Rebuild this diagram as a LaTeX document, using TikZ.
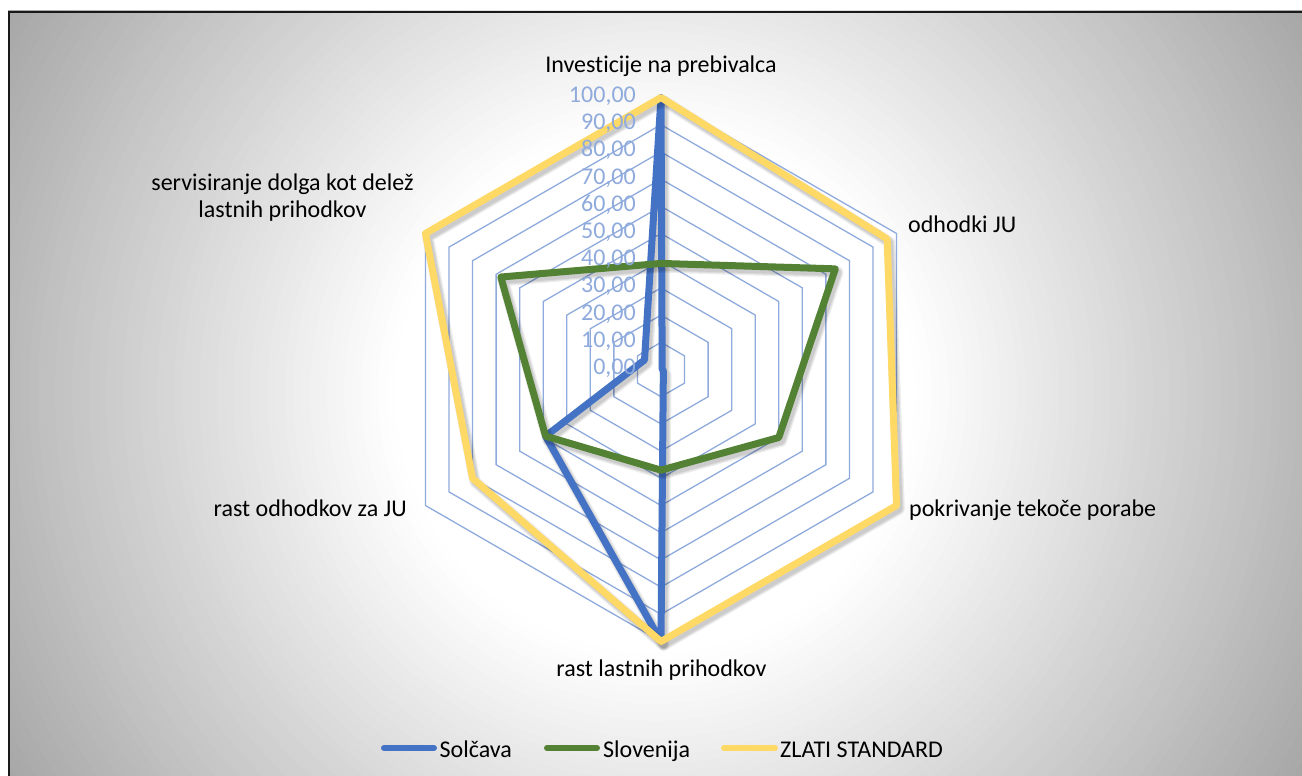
\documentclass[tikz,border=0pt]{standalone}
\usepackage{fontspec}
\setmainfont{Carlito}[Ligatures=CommonOff]
\definecolor{gridc}{HTML}{8FAADC}
\definecolor{serA}{HTML}{4472C4}
\definecolor{serB}{HTML}{548235}
\definecolor{serC}{HTML}{FFD966}
\definecolor{bgout}{HTML}{A6A6A6}
\newcommand{\defser}[7]{%
  \coordinate (#1-0) at ({-90}:{2.72*#2});
  \coordinate (#1-1) at ({-30}:{2.72*#3});
  \coordinate (#1-2) at ({30}:{2.72*#4});
  \coordinate (#1-3) at ({90}:{2.72*#5});
  \coordinate (#1-4) at ({150}:{2.72*#6});
  \coordinate (#1-5) at ({210}:{2.72*#7});
}
\tikzset{
  ring/.style={draw=gridc, line width=1.3},
  serline/.style={line width=7, line join=round},
  shadowline/.style={line width=#1, line join=round, black, opacity=0.07, transform canvas={xshift=2.5pt, yshift=-3.5pt}},
  catlabel/.style={inner sep=0, text=black},
  axlabel/.style={inner sep=0, text=gridc, anchor=base east},
  legline/.style={line width=6, line cap=round},
}
\begin{document}
\begin{tikzpicture}[x=1pt,y=-1pt, font=\fontsize{24}{27.3}\selectfont]
\useasboundingbox (0,0) rectangle (1302,776);
\fill[white] (0,0) rectangle (1302,776);
\begin{scope}
  \clip (8,11) rectangle (1302,776);
  \foreach \i in {0,...,60}{
    \pgfmathsetmacro{\rad}{770-\i*8.5}
    \pgfmathsetmacro{\pc}{max(0,min(100,(\rad/758-0.35)/0.65*100))}
    \fill[bgout!\pc!white] (655,393) circle[radius=\rad];
  }
  \draw[line width=2.5, black!90] (9,12) rectangle (1340,820);
\end{scope}

\begin{scope}[shift={(661,369.5)}]
  % plot area
  \fill[white] (-90:272) -- (-30:272) -- (30:272) -- (90:272) -- (150:272) -- (210:272) -- cycle;
  \foreach \k in {1,...,10}{
    \pgfmathsetmacro{\r}{27.2*\k}
    \draw[ring] (-90:\r) -- (-30:\r) -- (30:\r) -- (90:\r) -- (150:\r) -- (210:\r) -- cycle;
  }
  % series points
  \defser{A}{100}{0.5}{1}{100}{49}{7}
  \defser{B}{39}{74}{50}{37}{49}{68}
  \defser{C}{100}{96}{100}{100}{80}{100}
  % series with shadows
  \foreach \s/\c in {A/serA, B/serB, C/serC}{
    \draw[shadowline=11.5] (\s-0) -- (\s-1) -- (\s-2) -- (\s-3) -- (\s-4) -- (\s-5) -- cycle;
    \draw[shadowline=9] (\s-0) -- (\s-1) -- (\s-2) -- (\s-3) -- (\s-4) -- (\s-5) -- cycle;
    \draw[shadowline=7] (\s-0) -- (\s-1) -- (\s-2) -- (\s-3) -- (\s-4) -- (\s-5) -- cycle;
    \draw[serline, draw=\c] (\s-0) -- (\s-1) -- (\s-2) -- (\s-3) -- (\s-4) -- (\s-5) -- cycle;
  }
  % axis value labels
  \foreach \v in {0,...,10}{
    \node[axlabel] (ax\v) at (-25, {-27.2*\v+5}) {\the\numexpr\v*10\relax,00};
  }
\end{scope}

% category labels
\node[catlabel, anchor=base] (c0) at (661,73) {Investicije na prebivalca};
\node[catlabel, anchor=base west] (c1) at (908,232) {odhodki JU};
\node[catlabel, anchor=base west] (c2) at (909,516.5) {pokrivanje tekoče porabe};
\node[catlabel, anchor=base] (c3) at (661.5,676) {rast lastnih prihodkov};
\node[catlabel, anchor=base east] (c4) at (407,516.5) {rast odhodkov za JU};
\node[catlabel, anchor=base, align=center] (c5) at (282.5,217.7) {servisiranje dolga kot delež\\lastnih prihodkov};

% legend
\coordinate (l1a) at (384,748); \coordinate (l1b) at (434,748);
\coordinate (l2a) at (547,748); \coordinate (l2b) at (597,748);
\coordinate (l3a) at (724,748); \coordinate (l3b) at (775,748);
\draw[legline, serA] (l1a) -- (l1b);
\draw[legline, serB] (l2a) -- (l2b);
\draw[legline, serC] (l3a) -- (l3b);
\node[catlabel, anchor=base west] (t1) at (439.5,757.5) {Solčava};
\node[catlabel, anchor=base west] (t2) at (603,757.5) {Slovenija};
\node[catlabel, anchor=base west] (t3) at (780,757.5) {ZLATI STANDARD};
\end{tikzpicture}
\end{document}
